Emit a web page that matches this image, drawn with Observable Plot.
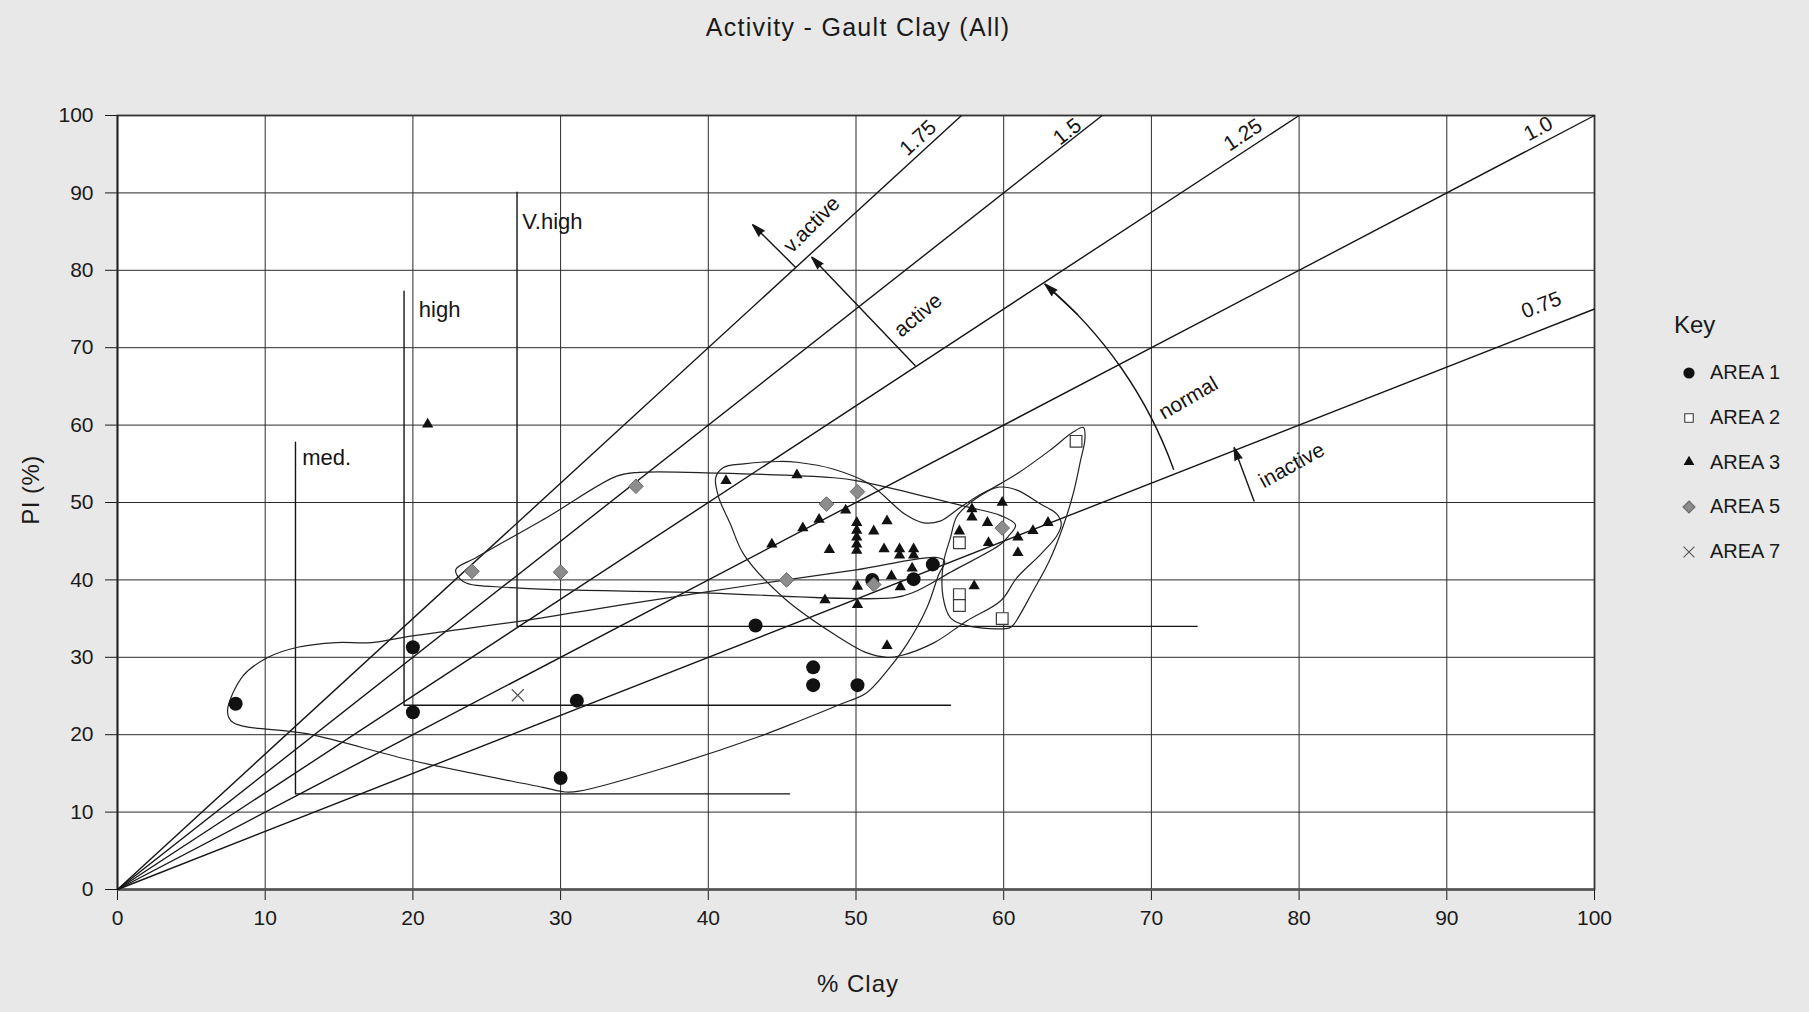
<!DOCTYPE html>
<html>
<head>
<meta charset="utf-8">
<script src="https://cdn.jsdelivr.net/npm/d3@7"></script>
<script src="https://cdn.jsdelivr.net/npm/@observablehq/plot@0.6"></script>
<style>
  html, body { margin: 0; padding: 0; background: #e8e8e8; }
  #wrap { position: relative; width: 1809px; height: 1012px; overflow: hidden;
          font-family: "Liberation Sans", Arial, sans-serif; color: #1a1a1a; }
  #chart { position: absolute; left: 0; top: 0; }
  .title { position: absolute; left: 0; width: 1716px; top: 12px; text-align: center;
           font-size: 25px; letter-spacing: 1.3px; line-height: 30px; }
  .xlabel { position: absolute; left: 0; width: 1716px; top: 970px; text-align: center;
            font-size: 24px; letter-spacing: 1px; line-height: 28px; }
  .ylabel { position: absolute; left: 31px; top: 490px; transform: translate(-50%, -50%) rotate(-90deg);
            font-size: 24px; letter-spacing: 0.5px; white-space: nowrap; line-height: 28px; }
  .key { position: absolute; left: 1674px; top: 311px; font-size: 24px; line-height: 28px; }
  .item { position: absolute; left: 1676px; height: 26px; display: flex; align-items: center;
          font-size: 20px; white-space: nowrap; }
  .item svg { width: 26px; height: 26px; margin-right: 8px; }
</style>
</head>
<body>
<div id="wrap">
  <div id="chart"></div>
  <div class="title">Activity - Gault Clay (All)</div>
  <div class="xlabel">% Clay</div>
  <div class="ylabel">PI (%)</div>
  <div class="key">Key</div>
  <div id="legend"></div>
</div>
<script>
// ---------- data ----------
const xTicks = [0, 10, 20, 30, 40, 50, 60, 70, 80, 90, 100];
const yTicks = [0, 10, 20, 30, 40, 50, 60, 70, 80, 90, 100];

const area1X = [8.0, 20.0, 20.0, 30.0, 31.1, 43.2, 47.1, 47.1, 50.1, 51.1, 53.9, 55.2];
const area1Y = [24.0, 31.3, 22.9, 14.4, 24.4, 34.1, 28.7, 26.4, 26.4, 40.0, 40.1, 42.0];

const area2X = [57.0, 57.0, 57.0, 59.9, 64.9];
const area2Y = [44.8, 38.1, 36.7, 35.0, 57.9];

const area3X = [21.0, 41.2, 46.0, 49.3, 47.5, 46.4, 44.3, 48.2,
                50.05, 50.05, 50.05, 50.05, 50.05, 50.1, 50.1,
                52.1, 51.2, 51.9, 52.95, 52.95, 53.9, 53.9, 53.8, 52.4, 53.0, 47.9, 52.1,
                57.85, 57.85, 59.9, 58.9, 57.0, 58.97, 60.96, 60.96, 61.98, 63.0, 58.0];
const area3Y = [60.1, 52.8, 53.55, 49.0, 47.8, 46.7, 44.6, 43.9,
                47.4, 46.4, 45.5, 44.6, 43.8, 39.15, 36.8,
                47.6, 46.3, 44.0, 44.0, 43.2, 44.0, 43.2, 41.5, 40.5, 39.1, 37.4, 31.5,
                49.15, 48.1, 50.0, 47.4, 46.3, 44.8, 45.5, 43.5, 46.35, 47.4, 39.2];

const area5X = [24.0, 30.0, 35.1, 48.0, 50.1, 45.3, 51.2, 59.9];
const area5Y = [41.1, 41.0, 52.1, 49.8, 51.4, 40.0, 39.4, 46.7];

const area7X = [27.1];
const area7Y = [25.1];

// activity (PI / %clay) reference lines and their labels
const activity = [0.75, 1.0, 1.25, 1.5, 1.75];
const activityText = ["0.75", "1.0", "1.25", "1.5", "1.75"];
const activityLabelX = [96.4, 96.2, 76.2, 64.3, 54.2];
const activityLabelY = [75.5, 98.3, 97.5, 97.9, 97.1];

// plasticity zones (L-shaped markers)
const zoneNames = ["med.", "high", "V.high"];
const zoneX = [12.05, 19.4, 27.05];
const zoneTop = [57.8, 77.3, 90.1];
const zoneBase = [12.35, 23.8, 34.0];
const zoneEnd = [45.5, 56.4, 73.1];
const zoneLabelX = [12.5, 20.4, 27.4];
const zoneLabelY = [55.7, 74.9, 86.3];

// activity class labels and arrows
const classText = ["v.active", "active", "normal", "inactive"];
const classX = [47.0, 54.2, 72.5, 79.5];
const classY = [85.9, 74.2, 63.5, 54.8];
const classRotate = [-45, -40, -30, -29];
const arrowX1 = [45.9, 54.0, 76.95];
const arrowY1 = [80.4, 67.7, 50.2];
const arrowX2 = [43.0, 47.0, 75.6];
const arrowY2 = [85.9, 81.7, 57.1];
const normalArc = {x1: 71.5, y1: 54.3, x2: 62.8, y2: 78.2};
const normalHead = {x1: 65.0, y1: 74.3, x2: 62.8, y2: 78.2};

// hand-drawn enclosures
const encArea1 = [[7.45,23.0],[8.5,27.6],[10.2,30.0],[12.2,31.3],[14.8,31.9],[17.2,31.9],[20.1,32.8],
  [27.4,34.7],[34.6,36.9],[43.5,39.5],[50,41.3],[55.4,42.9],[56.0,42.4],[55.6,40.7],[54.8,36.4],
  [53.45,31.7],[52.1,28.25],[50.7,25.4],[48.9,23.9],[46.2,21.8],[43.5,19.8],[37.0,15.7],[31.25,12.7],
  [30.3,12.6],[28.8,13.2],[20.1,16.6],[12.9,20.1],[7.8,21.6]];
const encArea5 = [[22.9,41.3],[24.3,42.9],[29.1,48.1],[33.8,53.4],[35.3,53.9],[40.7,53.8],[48.5,53.2],
  [50.1,52.8],[57.6,49.4],[59.8,48.3],[60.8,47.1],[60.3,45.6],[59.8,44.6],[56.6,41.2],[53.9,38.4],
  [52.6,37.7],[38.8,38.4],[26.7,39.0],[23.4,39.8]];
const encArea3 = [[40.5,53.2],[41.0,54.5],[42.4,55.0],[44.8,55.3],[46.0,55.2],[48.5,54.3],[50.9,52.4],
  [53.3,48.5],[54.5,47.4],[55.7,47.6],[57.0,49.3],[57.8,50.3],[58.9,51.5],[59.8,52.0],[60.9,51.6],
  [62.5,49.8],[63.6,48.5],[63.9,47.2],[63.6,45.7],[62.5,43.3],[60.9,40.3],[59.8,37.3],[57.5,34.7],
  [55.3,31.9],[53.0,30.2],[52.1,30.0],[50.7,30.6],[48.5,33.0],[45.1,37.7],[42.4,43.3],[41.5,47.2],[40.7,50.7]];
const encArea2 = [[65.4,59.7],[65.5,58.2],[65.2,55.4],[64.7,51.1],[64.0,46.8],[63.1,42.5],[62.0,38.6],
  [60.7,34.3],[60.4,33.8],[57.5,34.1],[56.4,35.1],[55.9,37.7],[55.9,42.0],[56.4,45.5],[56.8,48.1],
  [57.5,49.6],[58.6,51.1],[60.9,53.7],[63.1,56.7],[64.7,59.1]];

// ---------- build tables ----------
const pts = (xs, ys) => xs.map((x, i) => ({x, y: ys[i]}));
const area1 = pts(area1X, area1Y);
const area2 = pts(area2X, area2Y);
const area3 = pts(area3X, area3Y);
const area5 = pts(area5X, area5Y);
const area7 = pts(area7X, area7Y);

const enclosures = [
  ["a1", encArea1], ["a5", encArea5], ["a3", encArea3], ["a2", encArea2]
].flatMap(([id, arr]) => arr.map(([x, y]) => ({id, x, y})));

const zoneLines = zoneNames.flatMap((n, i) => [
  {n, x: zoneX[i], y: zoneTop[i]},
  {n, x: zoneX[i], y: zoneBase[i]},
  {n, x: zoneEnd[i], y: zoneBase[i]}
]);
const zoneLabels = zoneNames.map((t, i) => ({t, x: zoneLabelX[i], y: zoneLabelY[i]}));

const W = 1809, H = 1012;
const mL = 117, mR = 215, mT = 115, mB = 123;
const pxPerX = (W - mL - mR) / 100, pxPerY = (H - mT - mB) / 100;

const actLabels = activity.map((a, i) => ({
  t: activityText[i], x: activityLabelX[i], y: activityLabelY[i],
  r: -Math.atan(a * pxPerY / pxPerX) * 180 / Math.PI
}));
const classLabels = classText.map((t, i) => ({t, x: classX[i], y: classY[i], r: classRotate[i]}));
const arrows = arrowX1.map((x1, i) => ({x1, y1: arrowY1[i], x2: arrowX2[i], y2: arrowY2[i]}));

const ink = "#151515";

const chart = Plot.plot({
  width: W, height: H,
  marginLeft: mL, marginRight: mR, marginTop: mT, marginBottom: mB,
  style: {background: "transparent", fontFamily: "'Liberation Sans', Arial, sans-serif",
          fontSize: "21px", color: "#1a1a1a", overflow: "visible"},
  x: {domain: [0, 100], ticks: xTicks, tickSize: 11, tickPadding: 10, label: null},
  y: {domain: [0, 100], ticks: yTicks, tickSize: 12, tickPadding: 12, label: null},
  marks: [
    Plot.frame({fill: "white", stroke: null}),
    Plot.ruleX(xTicks.slice(1, -1), {stroke: "#2b2b2b", strokeWidth: 1}),
    Plot.ruleY(yTicks.slice(1, -1), {stroke: "#2b2b2b", strokeWidth: 1}),
    Plot.frame({stroke: "#333", strokeWidth: 1.8}),
    Plot.ruleY([0], {stroke: "#555", strokeWidth: 2.6}),
    Plot.ruleX([0], {stroke: "#222", strokeWidth: 1.6}),
    // activity lines
    Plot.link(activity, {x1: 0, y1: 0, x2: a => Math.min(100, 100 / a), y2: a => Math.min(100, 100 * a),
      stroke: ink, strokeWidth: 1.4}),
    // plasticity zone markers
    Plot.line(zoneLines, {x: "x", y: "y", z: "n", stroke: ink, strokeWidth: 1.4}),
    Plot.text(zoneLabels, {x: "x", y: "y", text: "t", textAnchor: "start", fontSize: 22, fill: ink}),
    // enclosures
    Plot.line(enclosures, {x: "x", y: "y", z: "id", curve: "catmull-rom-closed", stroke: "#222", strokeWidth: 1.2}),
    // arrows (filled heads)
    Plot.arrow(arrows, {x1: "x1", y1: "y1", x2: "x2", y2: "y2", stroke: ink, fill: ink, strokeWidth: 1.4,
      headLength: 14, headAngle: 32}),
    Plot.arrow([normalArc], {x1: "x1", y1: "y1", x2: "x2", y2: "y2", bend: -15, stroke: ink, strokeWidth: 1.4,
      headLength: 0}),
    Plot.arrow([normalHead], {x1: "x1", y1: "y1", x2: "x2", y2: "y2", stroke: ink, fill: ink, strokeWidth: 1.4,
      headLength: 14, headAngle: 32}),
    // labels
    Plot.text(actLabels, {x: "x", y: "y", text: "t", rotate: "r", fontSize: 21, fill: ink}),
    Plot.text(classLabels, {x: "x", y: "y", text: "t", rotate: "r", fontSize: 21, fill: ink}),
    // points
    Plot.dot(area7, {x: "x", y: "y", symbol: "times", r: 5.5, stroke: "#555", strokeWidth: 1.2}),
    Plot.dot(area2, {x: "x", y: "y", symbol: "square", r: 6.6, fill: "white", stroke: "#3a3a3a", strokeWidth: 1.2}),
    Plot.dot(area1, {x: "x", y: "y", symbol: "circle", r: 7, fill: "#111", stroke: null}),
    Plot.dot(area3, {x: "x", y: "y", symbol: "triangle", r: 4.2, fill: "#111", stroke: null}),
    Plot.dot(area5, {x: "x", y: "y", symbol: "diamond2", r: 6.6, fill: "#8c8c8c", stroke: "#6a6a6a", strokeWidth: 1})
  ]
});
document.getElementById("chart").appendChild(chart);

// ---------- legend ----------
const legendNames = ["AREA 1", "AREA 2", "AREA 3", "AREA 5", "AREA 7"];
const legendSymbols = [d3.symbolCircle, d3.symbolSquare, d3.symbolTriangle, d3.symbolDiamond2, d3.symbolX];
const legendSizes = [5.6, 4.8, 4.0, 5.4, 5.0];
const legendFill = ["#111", "white", "#111", "#8c8c8c", "none"];
const legendStroke = ["none", "#3a3a3a", "none", "#6a6a6a", "#555"];
const legendRowY = [372.7, 417.7, 462.3, 506.7, 551.7];
const legend = document.getElementById("legend");
legendNames.forEach((name, i) => {
  const div = document.createElement("div");
  div.className = "item";
  div.style.top = (legendRowY[i] - 13) + "px";
  const path = d3.symbol(legendSymbols[i], Math.PI * legendSizes[i] ** 2)();
  div.innerHTML = `<svg viewBox="-13 -13 26 26"><path d="${path}" fill="${legendFill[i]}" stroke="${legendStroke[i]}" stroke-width="1.1"/></svg><span>${name}</span>`;
  legend.appendChild(div);
});
</script>
</body>
</html>
